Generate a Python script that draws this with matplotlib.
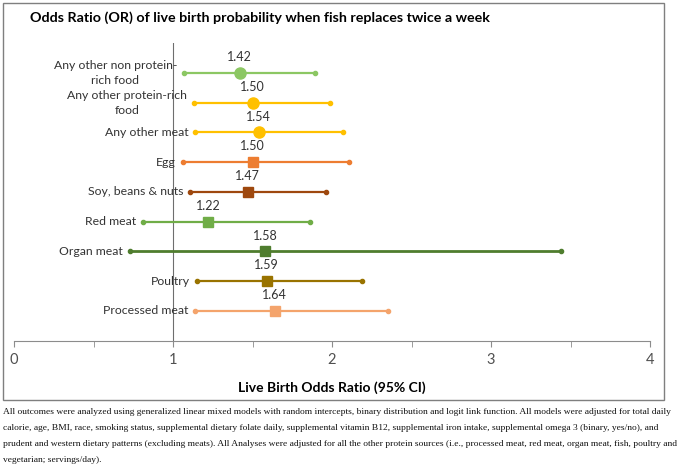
import matplotlib
matplotlib.use("Agg")
import matplotlib.pyplot as plt
from matplotlib.patches import Rectangle

plt.rcParams["font.family"] = ["Lato", "DejaVu Sans"]

# data, listed top to bottom
foods = ["Any other non protein-\nrich food", "Any other protein-rich\nfood", "Any other meat",
         "Egg", "Soy, beans & nuts", "Red meat", "Organ meat", "Poultry", "Processed meat"]
odds = [1.42, 1.50, 1.54, 1.50, 1.47, 1.22, 1.58, 1.59, 1.64]
ci_low = [1.07, 1.13, 1.14, 1.06, 1.11, 0.81, 0.73, 1.15, 1.14]
ci_high = [1.89, 1.99, 2.07, 2.11, 1.96, 1.86, 3.44, 2.19, 2.35]
markers = ["o", "o", "o", "s", "s", "s", "s", "s", "s"]
colors = ["#8CC763", "#FFC000", "#FFC000", "#ED7D31", "#9E480E",
          "#70AD47", "#4F7D2E", "#997300", "#F4A46C"]
x_ticks = [0, 1, 2, 3, 4]

TXT = "#333333"
AXC = "#8C8C8C"

fig = plt.figure(figsize=(6.84, 4.67), dpi=100, facecolor="white")
fig.patches.append(Rectangle((3 / 684, 1 - 400 / 467), 661 / 684, 397 / 467,
                             transform=fig.transFigure, fill=False,
                             edgecolor="#7F7F7F", linewidth=1.0))

ax = fig.add_axes([14 / 684, 126.3 / 467, 636 / 684, 297.7 / 467])
n = len(foods)
for i, name in enumerate(foods):
    y = n - i
    c = colors[i]
    ax.plot([ci_low[i], ci_high[i]], [y, y], color=c, lw=1.6 if i != 6 else 2.0,
            marker="o", ms=3, zorder=3)
    ax.plot(odds[i], y, marker=markers[i], color=c, ms=8 if markers[i] == "o" else 7,
            ls="none", zorder=4)
    ax.annotate(f"{odds[i]:.2f}", (odds[i], y), xytext=(0, 7), textcoords="offset points",
                ha="center", va="bottom", fontsize=9, color=TXT)
    ax.annotate(name, (ci_low[i], y), xytext=(-5, 0), textcoords="offset points",
                ha="right", va="center", multialignment="center", linespacing=1.45,
                fontsize=8.8, color=TXT)

ax.axvline(1, color="#6E6E6E", lw=0.8, zorder=1)
ax.set_xlim(0, 4)
ax.set_ylim(0, 10)
ax.set_yticks([])
ax.set_xticks(x_ticks)
ax.set_xticklabels([str(t) for t in x_ticks], fontsize=10.5, color="#505050")
ax.set_xticks([0.5, 1.5, 2.5, 3.5], minor=True)
ax.tick_params(axis="x", which="both", direction="out", length=4, color=AXC, pad=5)
for s in ["top", "right", "left"]:
    ax.spines[s].set_visible(False)
ax.spines["bottom"].set_color(AXC)
ax.set_xlabel("Live Birth Odds Ratio (95% CI)", fontsize=10, fontweight="bold",
              color="black", labelpad=10)

fig.text(30 / 684, 1 - 18 / 467, "Odds Ratio (OR) of live birth probability when fish replaces twice a week",
         fontsize=10.3, fontweight="bold", ha="left", va="center")

notes = [
    "All outcomes were analyzed using generalized linear mixed models with random intercepts, binary distribution and logit link function. All models were adjusted for total daily",
    "calorie, age, BMI, race, smoking status, supplemental dietary folate daily, supplemental vitamin B12, supplemental iron intake, supplemental omega 3 (binary, yes/no), and",
    "prudent and western dietary patterns (excluding meats). All Analyses were adjusted for all the other protein sources (i.e., processed meat, red meat, organ meat, fish, poultry and",
    "vegetarian; servings/day).",
]
for k, line in enumerate(notes):
    fig.text(3 / 684, 1 - (412 + 16 * k) / 467, line, fontsize=6.8, family="Liberation Serif",
             ha="left", va="center", color="#111111")

fig.savefig("out.png", dpi=100)
